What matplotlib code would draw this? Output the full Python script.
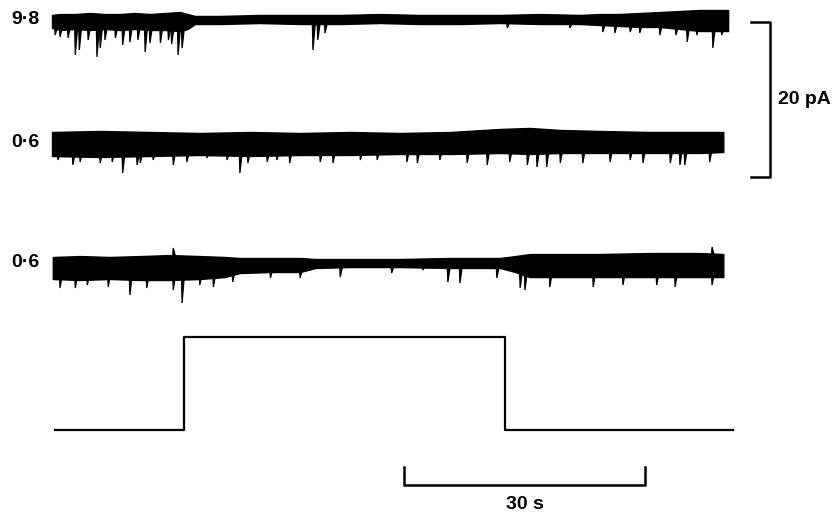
import numpy as np
import matplotlib.pyplot as plt

# --- current traces: noise envelope (pA, relative to each trace's baseline) ---
t1 = [0.0, 1.0, 2.9, 4.7, 6.6, 8.5, 10.3, 12.2, 14.1, 15.9, 16.9, 17.8, 20.9, 25.9, 30.9,
      35.9, 40.9, 45.8, 50.8, 55.8, 60.8, 65.8, 68.2, 70.7, 73.2, 75.7, 78.2, 80.7, 82.6, 84.2]
top1 = [0.65, 0.77, 0.77, 0.9, 0.77, 0.77, 0.9, 0.77, 0.9, 1.03, 0.77, 0.52, 0.52, 0.65, 0.65,
        0.65, 0.77, 0.65, 0.65, 0.65, 0.77, 0.65, 0.77, 0.77, 0.9, 1.03, 1.16, 1.29, 1.29, 1.29]
bot1 = [-1.03, -1.29, -1.16, -1.29, -1.16, -1.29, -1.16, -1.29, -1.29, -1.42, -1.16, -0.52, -0.52,
        -0.39, -0.52, -0.52, -0.39, -0.52, -0.52, -0.39, -0.52, -0.52, -0.65, -0.77, -0.9, -0.9,
        -1.16, -1.42, -1.42, -1.42]
spk1_t = [0.4, 1.0, 2.0, 2.9, 3.4, 4.5, 5.6, 6.0, 6.6, 7.9, 8.8, 9.7, 10.7, 11.6, 12.2, 13.5,
          14.5, 14.9, 15.7, 16.2, 32.5, 33.1, 34.0, 56.7, 64.5, 68.6, 70.1, 72.0, 73.2, 75.7,
          77.7, 79.1, 80.3, 82.3, 83.4]
spk1_a = [-1.94, -2.19, -2.32, -4.52, -3.87, -2.58, -4.77, -3.61, -2.58, -2.32, -3.23, -2.84,
          -2.58, -4.13, -2.97, -2.97, -2.58, -3.10, -4.52, -3.61, -3.87, -2.58, -1.68, -1.03,
          -1.03, -1.55, -1.68, -1.55, -1.68, -1.94, -1.94, -2.84, -1.94, -3.61, -1.94]

t2 = [0.0, 6.0, 12.2, 18.4, 24.7, 30.9, 37.1, 43.3, 49.6, 55.8, 59.5, 63.3, 68.2, 74.5, 80.7, 83.6]
top2 = [1.42, 1.55, 1.42, 1.29, 1.42, 1.29, 1.42, 1.29, 1.42, 1.81, 1.94, 1.68, 1.55, 1.42, 1.42, 1.42]
bot2 = [-1.68, -1.81, -1.68, -1.55, -1.68, -1.55, -1.55, -1.42, -1.42, -1.29, -1.42, -1.29,
        -1.29, -1.29, -1.29, -1.16]
spk2_t = [0.75, 2.6, 3.5, 6.0, 7.5, 8.8, 10.6, 11.0, 12.6, 15.1, 16.8, 19.3, 21.8, 23.4, 24.4,
          26.8, 28.0, 29.6, 33.4, 35.0, 38.4, 40.5, 44.2, 45.5, 48.3, 51.7, 54.2, 57.0, 59.2,
          60.4, 61.6, 63.3, 66.1, 69.5, 72.0, 73.6, 77.0, 78.2, 78.8, 81.9]
spk2_a = [-2.19, -2.84, -2.45, -2.58, -2.45, -3.87, -2.84, -2.58, -2.19, -2.84, -2.45, -1.94,
          -2.19, -3.87, -2.58, -2.45, -2.19, -2.58, -2.45, -2.58, -2.19, -2.19, -2.45, -2.58,
          -2.19, -2.58, -2.84, -2.45, -2.84, -3.10, -3.10, -2.58, -2.58, -2.45, -2.19, -2.58,
          -2.58, -2.84, -2.84, -2.45]

t3 = [0.1, 3.5, 7.2, 11.0, 14.7, 18.4, 21.5, 23.4, 27.2, 30.9, 32.8, 37.1, 43.3, 49.6, 55.8,
      57.7, 59.5, 63.3, 68.2, 74.5, 80.7, 83.6]
top3 = [0.65, 0.77, 0.65, 0.77, 0.9, 0.77, 0.65, 0.52, 0.52, 0.52, 0.39, 0.39, 0.39, 0.52, 0.52,
        0.77, 1.03, 1.03, 1.03, 1.16, 1.16, 1.03]
bot3 = [-2.19, -2.32, -2.19, -2.32, -2.32, -2.19, -1.94, -1.42, -1.29, -1.29, -0.77, -0.65,
        -0.65, -0.77, -0.77, -1.29, -1.94, -1.94, -1.94, -1.94, -1.94, -1.94]
spk3_t = [1.0, 2.9, 4.4, 7.0, 9.7, 11.8, 15.1, 16.2, 18.4, 20.1, 22.5, 27.2, 30.9, 35.9, 42.3,
          46.2, 49.3, 50.8, 55.4, 58.3, 58.9, 62.0, 67.4, 71.1, 75.3, 77.6, 82.2, 15.1, 82.2]
spk3_a = [-3.35, -3.35, -2.97, -3.23, -4.26, -3.35, -3.61, -5.29, -2.97, -3.23, -2.58, -2.06,
          -2.06, -1.94, -1.42, -1.03, -2.58, -2.71, -2.06, -3.35, -3.61, -3.23, -3.23, -2.97,
          -2.97, -3.23, -2.97, 1.81, 1.94]

trace_labels = ['9·8', '0·6', '0·6']

# --- application step (off / on) ---
step_t = [0.4, 16.4, 16.4, 56.4, 56.4, 84.8]
step_v = [0, 0, 1, 1, 0, 0]

# scale bars
bar_pA = 20
bar_s = 30

# layout (pA offsets of each row, in the same axis units)
offsets = [-2.58, -18.45, -33.81]
step_base, step_height = -55.5, 12.0

fig = plt.figure(figsize=(8.35, 5.13), dpi=100)
ax = fig.add_axes([0, 0, 1, 1])
ax.set_xlim(-52 / 8.03, (835 - 52) / 8.03)
ax.set_ylim(-513 / 7.75, 0)
ax.axis('off')

traces = [(t1, top1, bot1, spk1_t, spk1_a),
          (t2, top2, bot2, spk2_t, spk2_a),
          (t3, top3, bot3, spk3_t, spk3_a)]
for (t, top, bot, st, sa), off, lab in zip(traces, offsets, trace_labels):
    ax.fill_between(t, np.array(top) + off, np.array(bot) + off, color='black', lw=1.0)
    # events: fast rise, slower decay
    for ts, a in zip(st, sa):
        edge = np.interp(ts, t, bot if a < 0 else top)
        base = off + edge * 0.7
        ax.fill([ts - 0.08, ts, ts + 0.3], [base, off + a, base], color='black', lw=0.9)
    ax.text(-1.6, off, lab, ha='right', va='center', fontsize=14, fontweight='bold',
            family='Liberation Sans')

ax.plot(step_t, step_base + np.array(step_v) * step_height, color='black', lw=1.6)

# 20 pA bar
xb = 89.4
ytop = -2.84
ax.plot([xb - 2.3, xb, xb, xb - 2.3], [ytop, ytop, ytop - bar_pA, ytop - bar_pA],
        color='black', lw=1.8)
ax.text(xb + 1.0, ytop - bar_pA / 2, f'{bar_pA} pA', ha='left', va='center',
        fontsize=14, fontweight='bold', family='Liberation Sans')

# 30 s bar
x0 = 43.84
yb = -62.58
ax.plot([x0, x0, x0 + bar_s, x0 + bar_s], [yb + 2.3, yb, yb, yb + 2.3], color='black', lw=1.8)
ax.text(x0 + bar_s / 2, yb - 1.4, f'{bar_s} s', ha='center', va='top',
        fontsize=14, fontweight='bold', family='Liberation Sans')

fig.savefig('out.png', dpi=100)
